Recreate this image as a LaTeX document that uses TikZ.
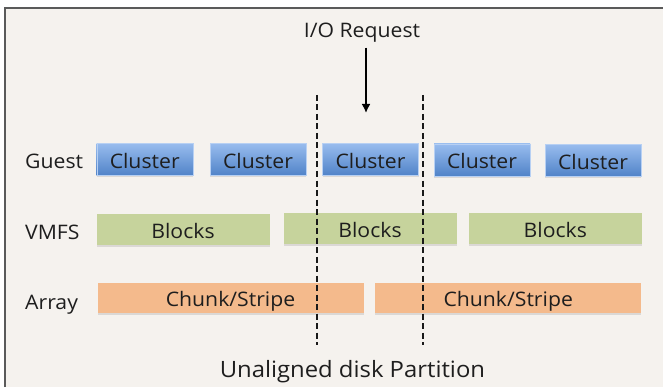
\documentclass[tikz,border=0pt]{standalone}
\usepackage{fontspec}
\setmainfont[FakeStretch=1.06]{Open Sans}
\usetikzlibrary{arrows.meta,shadows}

\definecolor{pagebg}{HTML}{F5F2EE}
\definecolor{framegray}{HTML}{5A5A5A}
\definecolor{clustertop}{HTML}{98BCEE}
\definecolor{clusterbot}{HTML}{5083C8}
\definecolor{blockfill}{HTML}{C6D39C}
\definecolor{chunkfill}{HTML}{F4BA8C}
\definecolor{inktext}{HTML}{1E1E1E}

\tikzset{
  x=1pt, y=-1pt,
  boxfont/.style={font=\fontsize{20}{20}\selectfont, text=inktext},
  boxtext/.style={boxfont, text height=17.5pt, text depth=0pt},
  boxshadow/.style={drop shadow={opacity=0.22, shadow xshift=0pt, shadow yshift=-1.6pt}},
  clusterbox/.style={boxshadow, boxtext, minimum width=96pt, minimum height=32pt, inner sep=0pt,
    top color=clustertop, bottom color=clusterbot, draw=clustertop!70!white, line width=0.4pt},
  blockbox/.style={boxshadow, boxtext, minimum width=173pt, minimum height=31pt, inner sep=0pt,
    fill=blockfill},
  chunkbox/.style={boxshadow, boxtext, minimum width=266pt, minimum height=30pt, inner sep=0pt,
    fill=chunkfill},
  rowlabel/.style={boxfont, anchor=base west, inner sep=0pt},
  boundary/.style={line width=1.8pt, dash pattern=on 6pt off 3.5pt, draw=black!90},
}

\begin{document}
\begin{tikzpicture}
  % page and frame
  \useasboundingbox (0,0) rectangle (663,390);
  \fill[white] (0,0) rectangle (663,390);
  \fill[pagebg] (5,8) rectangle (663,387);
  \draw[framegray, line width=2pt] (5,387) -- (5,8) -- (663,8);

  % layer labels
  \node[rowlabel] (guest) at (25,168.5) {Guest};
  \node[rowlabel] (vmfs)  at (25,239.5) {VMFS};
  \node[rowlabel] (array) at (25,309.5) {Array};

  % guest clusters
  \node[clusterbox] (c1) at (144.7,159.5) {Cluster};
  \node[clusterbox] (c2) at (258,159.5) {Cluster};
  \node[clusterbox] (c3) at (370.5,159.5) {Cluster};
  \node[clusterbox] (c4) at (482,160) {Cluster};
  \node[clusterbox] (c5) at (593,160.5) {Cluster};

  % VMFS blocks
  \node[blockbox] (b1) at (183,229.7) {Blocks};
  \node[blockbox] (b2) at (370,228.5) {Blocks};
  \node[blockbox] (b3) at (555.3,228.5) {Blocks};

  % array chunks
  \node[chunkbox] (s1) at (230.5,298) {Chunk/Stripe};
  \node[chunkbox] (s2) at (508.2,298) {Chunk/Stripe};

  % request and caption
  \node[boxfont, anchor=base, inner sep=0pt] (io) at (362,37.7) {I/O Request};
  \node[font=\fontsize{22.5}{22.5}\selectfont, text=inktext, anchor=base, inner sep=0pt] (caption) at (352.4,377) {Unaligned disk Partition};

  \coordinate (iotip) at (366,113);
  \draw[line width=1.8pt, -{Latex[length=9pt,width=9pt]}] (io.south -| iotip) ++(0,5) -- (iotip);

  % partition boundaries
  \coordinate (lt) at (317,95);
  \coordinate (lb) at (317,345);
  \coordinate (rt) at (423,95);
  \coordinate (rb) at (423,345);
  \draw[boundary] (lt) -- (lb);
  \draw[boundary] (rt) -- (rb);
\end{tikzpicture}
\end{document}
